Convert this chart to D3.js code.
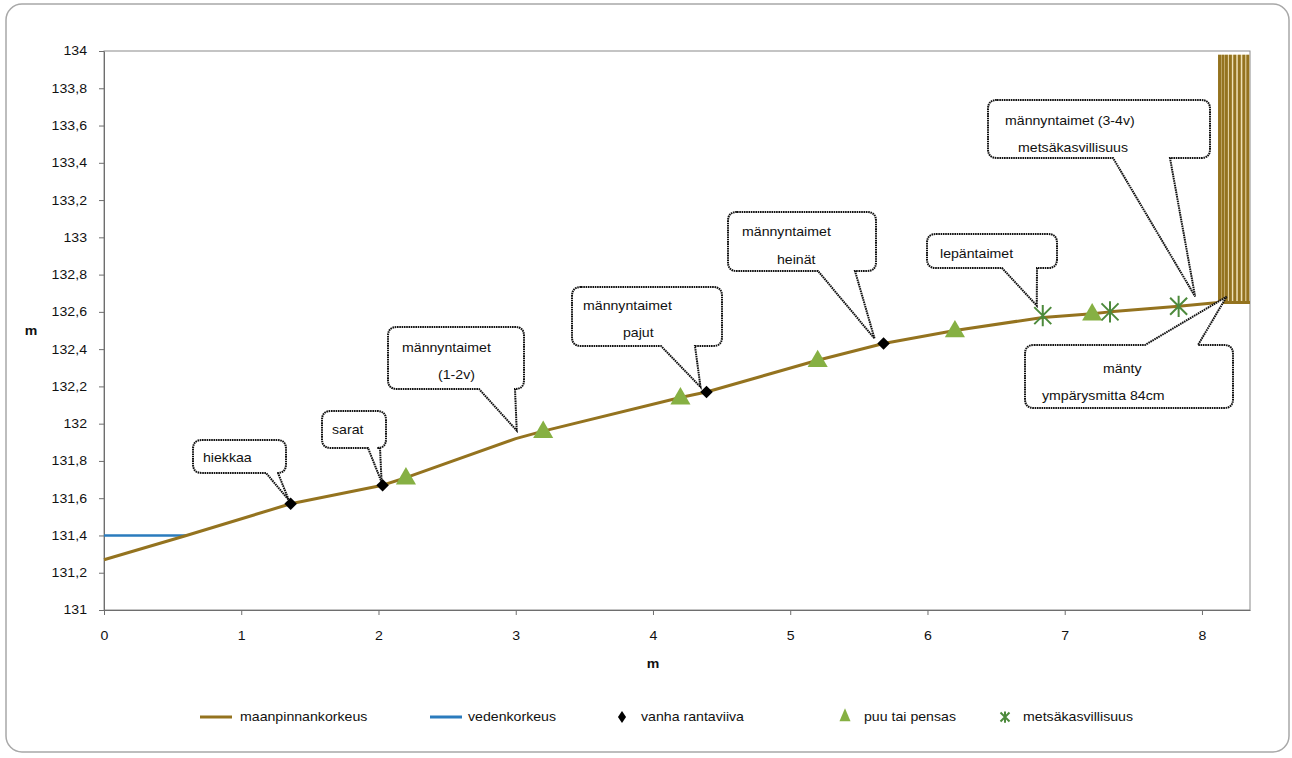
<!DOCTYPE html>
<html>
<head>
<meta charset="utf-8">
<script src="https://cdn.jsdelivr.net/npm/d3@7"></script>
<style>
  html, body { margin: 0; padding: 0; background: #fff; }
  svg { display: block; }
  text { font-family: "Liberation Sans", Arial, sans-serif; fill: #111; }
</style>
</head>
<body>
<svg id="chart" width="1292" height="758"></svg>
<script>
// ---- data ----
const groundX = [0, 0.6, 1.36, 2.03, 2.2, 3.0, 3.2, 4.2, 4.39, 5.2, 5.68, 6.2, 6.84, 7.2, 7.33, 7.83, 8.12, 8.35];
const groundY = [131.27, 131.40, 131.57, 131.67, 131.71, 131.92, 131.96, 132.14, 132.17, 132.34, 132.43, 132.50, 132.57, 132.59, 132.60, 132.63, 132.65, 132.65];

const waterX = [0, 0.6];
const waterY = [131.4, 131.4];

const shoreX = [1.36, 2.03, 4.39, 5.68];
const shoreY = [131.57, 131.67, 132.17, 132.43];

const treeX = [2.2, 3.2, 4.2, 5.2, 6.2, 7.2];
const treeY = [131.71, 131.96, 132.14, 132.34, 132.50, 132.59];

const forestX = [6.84, 7.33, 7.83];
const forestY = [132.58, 132.60, 132.63];

// pine trunk drawn as vertical ground-coloured strokes
const trunkX = [8.128, 8.153, 8.178, 8.207, 8.239, 8.272, 8.305, 8.334];
const trunkBase = 132.65;
const trunkTop = 133.98;

const xTicks = [0, 1, 2, 3, 4, 5, 6, 7, 8];
const xTickLabels = ["0", "1", "2", "3", "4", "5", "6", "7", "8"];
const yTicks = [131, 131.2, 131.4, 131.6, 131.8, 132, 132.2, 132.4, 132.6, 132.8, 133, 133.2, 133.4, 133.6, 133.8, 134];
const yTickLabels = ["131", "131,2", "131,4", "131,6", "131,8", "132", "132,2", "132,4", "132,6", "132,8", "133", "133,2", "133,4", "133,6", "133,8", "134"];

const seriesNames = ["maanpinnankorkeus", "vedenkorkeus", "vanha rantaviiva", "puu tai pensas", "metsäkasvillisuus"];

// callout texts and the data point each one points at
const calloutLines = [
  ["hiekkaa"],
  ["sarat"],
  ["männyntaimet", "(1-2v)"],
  ["männyntaimet", "pajut"],
  ["männyntaimet", "heinät"],
  ["lepäntaimet"],
  ["männyntaimet (3-4v)", "metsäkasvillisuus"],
  ["mänty", "ympärysmitta 84cm"]
];
const calloutAnchorX = [1.36, 2.03, 3.0, 4.39, 5.68, 6.84, 7.95, 8.15];
const calloutAnchorY = [131.57, 131.67, 131.92, 132.17, 132.43, 132.58, 132.64, 132.66];

// ---- layout ----
const W = 1292, H = 758;
const plot = { left: 104, top: 51, right: 1250, bottom: 610 };
const SX = 1.15;            // horizontal text stretch
const FONT = 12.3;

const C = {
  ground: "#94731f",
  water: "#2a7bbd",
  shore: "#000000",
  tree: "#86b043",
  forest: "#4d8a3c",
  axis: "#6e6e6e",
  frame: "#8a8a8a",
  trunkGap: "#efe1b6"
};

// callout boxes: [x0, y0, x1, y1], wedge base [a, b], wedge side, tip offset px, text starts [[x,y],...]
const calloutBoxes = [
  { box: [193, 440, 286, 473], wedge: [266, 278], side: "bottom", tip: [-2, -4], text: [[203, 458]] },
  { box: [322, 411, 386, 448], wedge: [368, 380], side: "bottom", tip: [-1, -3], text: [[332, 430]] },
  { box: [388, 327, 524, 389], wedge: [479, 515], side: "bottom", tip: [1, -8], text: [[402, 348], [438, 375]] },
  { box: [572, 287, 722, 346], wedge: [661, 695], side: "bottom", tip: [-6, -5], text: [[583, 306], [623, 333]] },
  { box: [728, 212, 876, 271], wedge: [818, 855], side: "bottom", tip: [-9, -5], text: [[742, 232], [777, 260]] },
  { box: [927, 234, 1057, 268], wedge: [1002, 1037], side: "bottom", tip: [-6, -10], text: [[940, 254]] },
  { box: [988, 100, 1210, 158], wedge: [1113, 1170], side: "bottom", tip: [0, -8], text: [[1005, 121], [1018, 148]] },
  { box: [1025, 345, 1233, 408], wedge: [1145, 1198], side: "top", tip: [4, -4], text: [[1103, 369], [1042, 396]] }
];

const legendItems = [
  { kind: "line", color: C.ground, x: 200, tx: 240 },
  { kind: "line", color: C.water, x: 430, tx: 468 },
  { kind: "diamond", color: C.shore, x: 622, tx: 641 },
  { kind: "triangle", color: C.tree, x: 845, tx: 864 },
  { kind: "star", color: C.forest, x: 1005, tx: 1023 }
];
const legendY = 717;

// ---- scales ----
const x = d3.scaleLinear().domain([0, 8.35]).range([plot.left, plot.right]);
const y = d3.scaleLinear().domain([131, 134]).range([plot.bottom, plot.top]);

const svg = d3.select("#chart");

// chart outer frame
svg.append("rect")
  .attr("x", 6).attr("y", 4).attr("width", 1283).attr("height", 748)
  .attr("rx", 16).attr("ry", 16)
  .attr("fill", "#fff").attr("stroke", "#a8a8a8").attr("stroke-width", 1.5);

// plot area frame
svg.append("rect")
  .attr("x", plot.left).attr("y", plot.top)
  .attr("width", plot.right - plot.left).attr("height", plot.bottom - plot.top)
  .attr("fill", "none").attr("stroke", C.frame).attr("stroke-width", 1);

// stretched text helper
function addText(parent, str, px, py, opts = {}) {
  const g = parent.append("g").attr("transform", `translate(${px},${py})`);
  const t = g.append("text")
    .attr("transform", `scale(${SX},1)`)
    .attr("dy", "0.35em")
    .attr("font-size", opts.size || FONT)
    .attr("text-anchor", opts.anchor || "start")
    .text(str);
  if (opts.bold) t.attr("font-weight", "bold");
  return t;
}

// ---- axes ----
const yAxis = d3.axisLeft(y).tickValues(yTicks).tickSize(5).tickSizeOuter(0)
  .tickFormat((d, i) => yTickLabels[i]);
const gy = svg.append("g").attr("transform", `translate(${plot.left},0)`).call(yAxis);
gy.select(".domain").attr("stroke", C.axis);
gy.selectAll(".tick line").attr("stroke", C.axis);
gy.selectAll(".tick text")
  .attr("font-size", FONT).attr("font-family", '"Liberation Sans", Arial, sans-serif')
  .attr("fill", "#111")
  .attr("x", -17 / SX).attr("transform", `scale(${SX},1)`);

const xAxis = d3.axisBottom(x).tickValues(xTicks).tickSize(5).tickSizeOuter(0)
  .tickFormat((d, i) => xTickLabels[i]);
const gx = svg.append("g").attr("transform", `translate(0,${plot.bottom})`).call(xAxis);
gx.select(".domain").attr("stroke", C.axis);
gx.selectAll(".tick line").attr("stroke", C.axis);
gx.selectAll(".tick text")
  .attr("font-size", FONT).attr("font-family", '"Liberation Sans", Arial, sans-serif')
  .attr("fill", "#111")
  .attr("y", 21.5).attr("transform", `scale(${SX},1)`);

addText(svg, "m", 31, 331, { bold: true, anchor: "middle" });
addText(svg, "m", 653, 664, { bold: true, anchor: "middle" });

// ---- series ----
const line = d3.line().x(d => x(d[0])).y(d => y(d[1]));

// pine trunk
const trunkG = svg.append("g");
trunkG.append("rect")
  .attr("x", x(trunkX[0]) - 1.5)
  .attr("y", y(trunkTop))
  .attr("width", x(trunkX[trunkX.length - 1]) - x(trunkX[0]) + 3)
  .attr("height", y(trunkBase) - y(trunkTop))
  .attr("fill", C.trunkGap);
trunkG.selectAll("line").data(trunkX).join("line")
  .attr("x1", d => x(d)).attr("x2", d => x(d))
  .attr("y1", y(trunkBase)).attr("y2", y(trunkTop))
  .attr("stroke", C.ground).attr("stroke-width", 3);

svg.append("path")
  .datum(d3.zip(waterX, waterY))
  .attr("d", line).attr("fill", "none")
  .attr("stroke", C.water).attr("stroke-width", 2.5);

svg.append("path")
  .datum(d3.zip(groundX, groundY))
  .attr("d", line).attr("fill", "none")
  .attr("stroke", C.ground).attr("stroke-width", 3)
  .attr("stroke-linejoin", "round");

// marker symbols
const diamondPath = d3.symbol().type(d3.symbolDiamond2 || d3.symbolDiamond).size(100)();
const trianglePath = d3.symbol().type(d3.symbolTriangle).size(175)();

function starPath(r) {
  return `M${-r},${-r}L${r},${r}M${-r},${r}L${r},${-r}M0,${-r * 1.25}L0,${r * 1.25}`;
}

// ---- callouts ----
function calloutPath(b, tipX, tipY) {
  const [x0, y0, x1, y1] = b.box;
  const [wa, wb] = b.wedge;
  const r = 9;
  let p = `M${x0 + r},${y0}`;
  if (b.side === "top") p += `L${wa},${y0}L${tipX},${tipY}L${wb},${y0}`;
  p += `L${x1 - r},${y0}Q${x1},${y0} ${x1},${y0 + r}`;
  p += `L${x1},${y1 - r}Q${x1},${y1} ${x1 - r},${y1}`;
  if (b.side === "bottom") p += `L${wb},${y1}L${tipX},${tipY}L${wa},${y1}`;
  p += `L${x0 + r},${y1}Q${x0},${y1} ${x0},${y1 - r}`;
  p += `L${x0},${y0 + r}Q${x0},${y0} ${x0 + r},${y0}Z`;
  return p;
}

const calloutG = svg.append("g");
calloutBoxes.forEach((b, i) => {
  const tx = x(calloutAnchorX[i]) + b.tip[0];
  const ty = y(calloutAnchorY[i]) + b.tip[1];
  calloutG.append("path")
    .attr("d", calloutPath(b, tx, ty))
    .attr("fill", "#fff")
    .attr("stroke", "#111").attr("stroke-width", 2)
    .attr("stroke-dasharray", "1.6,0.7");
  calloutLines[i].forEach((s, j) => addText(calloutG, s, b.text[j][0], b.text[j][1]));
});

// markers drawn above callout tips
svg.append("g").selectAll("path").data(d3.zip(treeX, treeY)).join("path")
  .attr("transform", d => `translate(${x(d[0])},${y(d[1]) + 1})`)
  .attr("d", trianglePath).attr("fill", C.tree);

svg.append("g").selectAll("path").data(d3.zip(shoreX, shoreY)).join("path")
  .attr("transform", d => `translate(${x(d[0])},${y(d[1])})`)
  .attr("d", diamondPath).attr("fill", C.shore);

svg.append("g").selectAll("path").data(d3.zip(forestX, forestY)).join("path")
  .attr("transform", d => `translate(${x(d[0])},${y(d[1])})`)
  .attr("d", starPath(8.5)).attr("fill", "none")
  .attr("stroke", C.forest).attr("stroke-width", 2);

// ---- legend ----
const leg = svg.append("g");
legendItems.forEach((it, i) => {
  if (it.kind === "line") {
    leg.append("line").attr("x1", it.x).attr("x2", it.x + 32)
      .attr("y1", legendY).attr("y2", legendY)
      .attr("stroke", it.color).attr("stroke-width", 3);
  } else if (it.kind === "diamond") {
    leg.append("path").attr("transform", `translate(${it.x},${legendY}) scale(0.65,0.95)`)
      .attr("d", diamondPath).attr("fill", it.color);
  } else if (it.kind === "triangle") {
    leg.append("path").attr("transform", `translate(${it.x},${legendY}) scale(0.55,0.75)`)
      .attr("d", trianglePath).attr("fill", it.color);
  } else {
    leg.append("path").attr("transform", `translate(${it.x},${legendY})`)
      .attr("d", starPath(4.5)).attr("fill", "none")
      .attr("stroke", it.color).attr("stroke-width", 2);
  }
  addText(leg, seriesNames[i], it.tx, legendY);
});
</script>
</body>
</html>
